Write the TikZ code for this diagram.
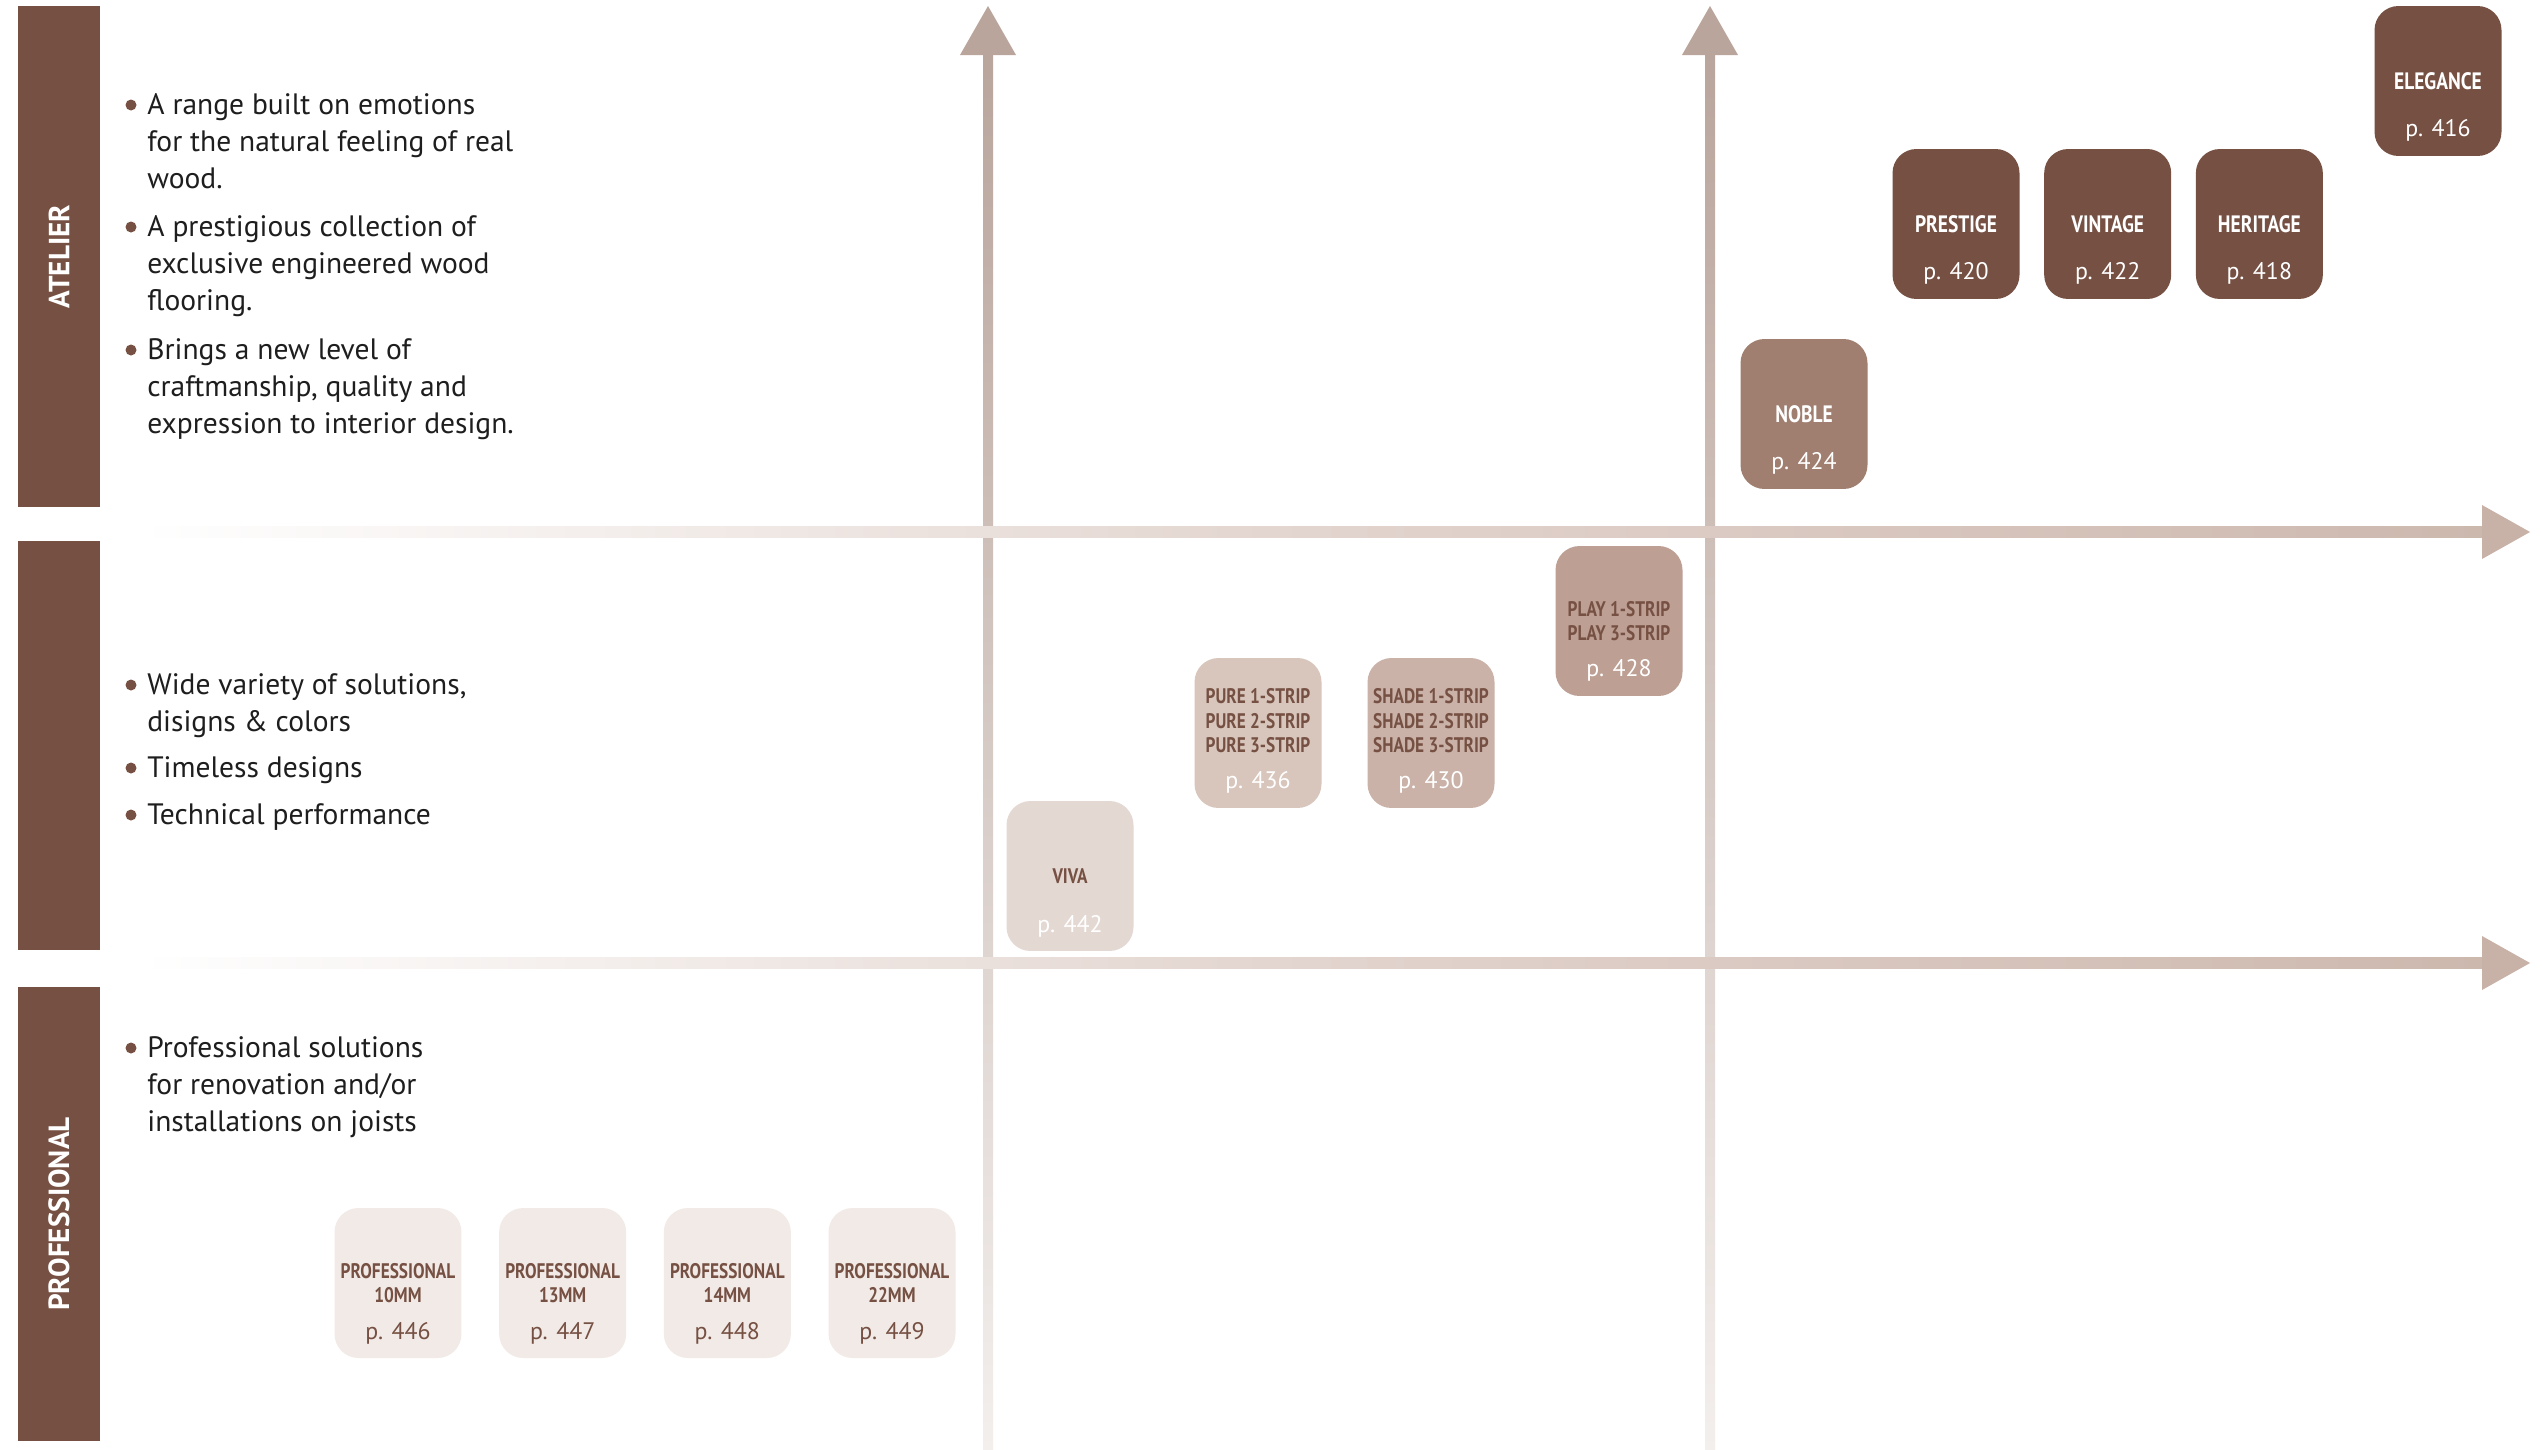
\documentclass[tikz,border=0pt]{standalone}
\usepackage{fontspec}
\setmainfont{PT Sans}
\newfontfamily\narrowfont[FakeStretch=0.82]{PT Sans}
\usetikzlibrary{positioning}
\definecolor{bark}{HTML}{765143}
\definecolor{noblec}{HTML}{A07F70}
\definecolor{playc}{HTML}{BD9F93}
\definecolor{shadec}{HTML}{CAB2A8}
\definecolor{purec}{HTML}{D8C6BD}
\definecolor{vivac}{HTML}{E4D8D3}
\definecolor{profc}{HTML}{F2EAE7}
\definecolor{inkblack}{HTML}{1E1E1E}
\definecolor{vaxtop}{HTML}{B9A59C}
\definecolor{vaxbot}{HTML}{F3EFED}
\definecolor{haxmid}{HTML}{E2D4CE}
\definecolor{haxend}{HTML}{CDB8AE}
\definecolor{haxhead}{HTML}{C8B1A7}
\tikzset{rangebox/.style={rounded corners=.48cm,minimum width=2.54cm,minimum height=3cm,inner sep=0pt},
  boxtitle/.style={font=\narrowfont\bfseries\fontsize{12}{14}\selectfont,align=center,inner sep=0pt},
  bigtitle/.style={boxtitle,font=\narrowfont\bfseries\fontsize{13.5}{15}\selectfont},
  boxpage/.style={font=\fontsize{13.6}{15}\selectfont,anchor=base,inner sep=0pt},
  sidebar/.style={fill=bark,text=white,rotate=90,minimum height=1.64cm,inner sep=0pt,font=\bfseries\fontsize{16.6}{18}\selectfont},
  pointtext/.style={anchor=north west,align=left,inner sep=0pt,text=inkblack,font=\fontsize{16.8}{21}\selectfont},
  bulletdot/.style={circle,fill=bark,minimum size=.22cm,inner sep=0pt}}
\begin{document}
\begin{tikzpicture}[x=.02cm,y=-.02cm]
\useasboundingbox[fill=white] (0,0) rectangle (2542,1450);
% axes
\foreach \ax in {988,1710} {
  \shade[top color=vaxtop,bottom color=vaxbot] (\ax-5,50) rectangle (\ax+5,1450);
  \fill[vaxtop] (\ax-28,55) -- (\ax,6) -- (\ax+28,55) -- cycle;}
\foreach \ay in {532,963} {
  \shade[left color=white,right color=haxend,middle color=haxmid] (140,\ay-5.5) rectangle (2484,\ay+5.5);
  \fill[haxhead] (2482,\ay-27) -- (2530,\ay) -- (2482,\ay+27) -- cycle;}
% side bars
\node[sidebar,minimum width=10.02cm] (atelierbar) at (59,256.5) {ATELIER};
\node[sidebar,minimum width=8.18cm] (midbar) at (59,745.5) {};
\node[sidebar,minimum width=9.08cm] (profbar) at (59,1214) {PROFESSIONAL};
% bullet points
\foreach \nm/\by/\txt in {atelier1/115/{A range built on emotions\\for the natural feeling of real\\wood.},
  atelier2/237/{A prestigious collection of\\exclusive engineered wood\\flooring.},
  atelier3/360/{Brings a new level of\\craftmanship, quality and\\expression to interior design.},
  mid1/695/{Wide variety of solutions,\\disigns \& colors},
  mid2/778/{Timeless designs},
  mid3/825/{Technical performance},
  prof1/1058/{Professional solutions\\for renovation and/or\\installations on joists}} {
  \node[bulletdot] (\nm-dot) at (131,\by-10) {};
  \node[pointtext] (\nm) at (147,\by-21.5) {\txt};}
% atelier ranges
\node[rangebox,fill=bark] (elegance) at (2438,81) {};
\node[bigtitle,text=white] (elegance-t) at (elegance.center) {ELEGANCE};
\node[boxpage,text=white] (elegance-p) at ([yshift=-1.12cm]elegance.center) {p. 416};
\node[rangebox,fill=bark] (prestige) at (1956,224) {};
\node[rangebox,fill=bark,right=.48cm of prestige] (vintage) {};
\node[rangebox,fill=bark,right=.48cm of vintage] (heritage) {};
\foreach \nm/\ttl/\pg in {prestige/PRESTIGE/420,vintage/VINTAGE/422,heritage/HERITAGE/418} {
  \node[bigtitle,text=white] (\nm-t) at (\nm.center) {\ttl};
  \node[boxpage,text=white] (\nm-p) at ([yshift=-1.12cm]\nm.center) {p. \pg};}
\node[rangebox,fill=noblec] (noble) at (1804,414) {};
\node[bigtitle,text=white] (noble-t) at (noble.center) {NOBLE};
\node[boxpage,text=white] (noble-p) at ([yshift=-1.12cm]noble.center) {p. 424};
% design ranges
\node[rangebox,fill=playc] (play) at (1619,621) {};
\node[boxtitle,text=bark] (play-t) at (play.center) {PLAY 1-STRIP\\PLAY 3-STRIP};
\node[boxpage,text=white] (play-p) at ([yshift=-1.12cm]play.center) {p. 428};
\node[rangebox,fill=purec] (pure) at (1258,733) {};
\node[rangebox,fill=shadec] (shade) at (1431,733) {};
\node[boxtitle,text=bark] (pure-t) at ([yshift=.24cm]pure.center) {PURE 1-STRIP\\PURE 2-STRIP\\PURE 3-STRIP};
\node[boxpage,text=white] (pure-p) at ([yshift=-1.12cm]pure.center) {p. 436};
\node[boxtitle,text=bark] (shade-t) at ([yshift=.24cm]shade.center) {SHADE 1-STRIP\\SHADE 2-STRIP\\SHADE 3-STRIP};
\node[boxpage,text=white] (shade-p) at ([yshift=-1.12cm]shade.center) {p. 430};
\node[rangebox,fill=vivac] (viva) at (1070,876) {};
\node[boxtitle,text=bark] (viva-t) at (viva.center) {VIVA};
\node[boxpage,text=white] (viva-p) at ([yshift=-1.12cm]viva.center) {p. 442};
% professional ranges
\node[rangebox,fill=profc] (prof10) at (398,1283) {};
\node[rangebox,fill=profc,right=.74cm of prof10] (prof13) {};
\node[rangebox,fill=profc,right=.74cm of prof13] (prof14) {};
\node[rangebox,fill=profc,right=.74cm of prof14] (prof22) {};
\foreach \mm/\pg in {10/446,13/447,14/448,22/449} {
  \node[boxtitle,text=bark] (prof\mm-t) at (prof\mm.center) {PROFESSIONAL\\\mm MM};
  \node[boxpage,text=bark] (prof\mm-p) at ([yshift=-1.12cm]prof\mm.center) {p. \pg};}
\end{tikzpicture}
\end{document}
